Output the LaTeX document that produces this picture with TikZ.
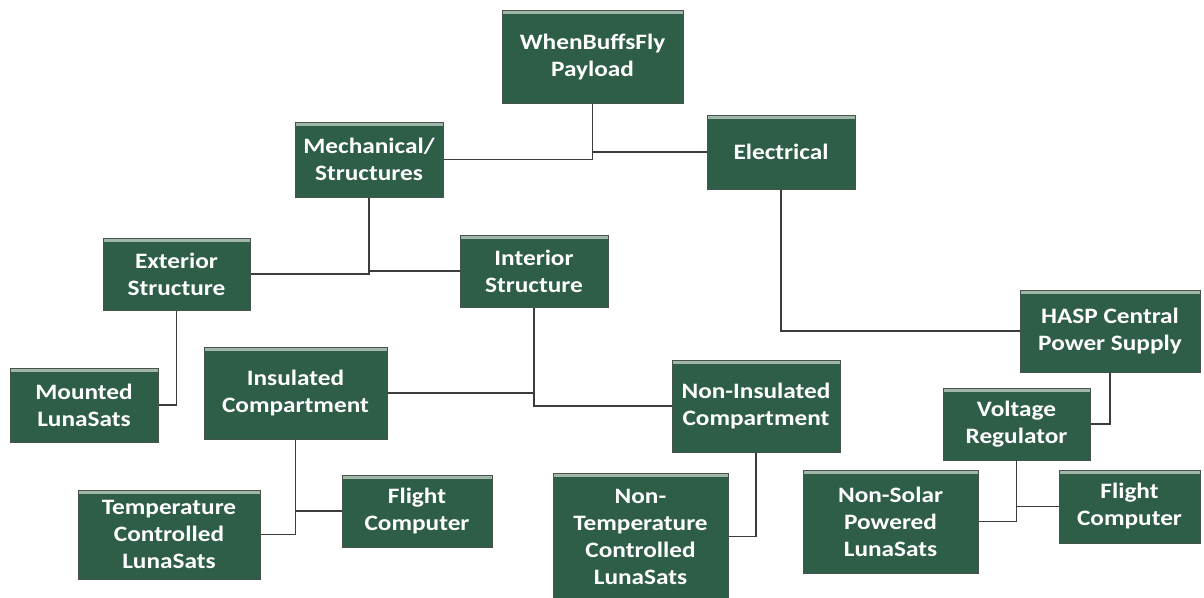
\documentclass[tikz,border=0pt]{standalone}
\usepackage{fontspec}
\setmainfont{Carlito}[FakeStretch=1.15]
\usetikzlibrary{positioning}
\definecolor{boxgreen}{RGB}{46,94,72}
\definecolor{boxedge}{RGB}{70,84,76}
\definecolor{boxshine}{RGB}{160,182,168}
\definecolor{wire}{RGB}{60,60,60}
\tikzset{
  unit/.style={
    rectangle, fill=boxgreen, draw=boxedge, line width=1pt,
    text=white, align=center, inner sep=2pt,
    font=\fontsize{22}{27}\selectfont\bfseries,
    path picture={
      \draw[boxshine, line width=2.5pt]
        ([yshift=-2.5pt]path picture bounding box.north west) --
        ([yshift=-2.5pt]path picture bounding box.north east);
    }
  },
  wirestyle/.style={draw=wire, line width=1.6pt}
}
\begin{document}
\begin{tikzpicture}[x=1pt, y=-1pt]
  \useasboundingbox (0,0) rectangle (1204,597);
  \clip (0,0) rectangle (1204,597);
  \fill[white] (0,0) rectangle (1204,597);

  % top level
  \node[unit, minimum width=181pt, minimum height=93pt] (pay)  at (592.5,56.5) {WhenBuffsFly\\Payload};
  \node[unit, minimum width=148pt, minimum height=75pt] (mech) at (369,159.5)  {Mechanical/\\Structures};
  \node[unit, minimum width=148pt, minimum height=74pt] (elec) at (781,152)    {Electrical};

  % mechanical branch
  \node[unit, minimum width=147pt, minimum height=72pt] (ext)  at (176.5,274)  {Exterior\\Structure};
  \node[unit, minimum width=148pt, minimum height=72pt] (int)  at (534,271)    {Interior\\Structure};
  \node[unit, minimum width=148pt, minimum height=74pt] (mnt)  at (84,405)     {Mounted\\LunaSats};
  \node[unit, minimum width=183pt, minimum height=92pt] (ins)  at (295.5,393)  {Insulated\\Compartment};
  \node[unit, minimum width=168pt, minimum height=92pt] (nins) at (756,406)    {Non-Insulated\\Compartment};
  \node[unit, minimum width=182pt, minimum height=89pt] (tc)   at (169,534.5)  {Temperature\\Controlled\\LunaSats};
  \node[unit, minimum width=150pt, minimum height=72pt] (fcl)  at (417,511)    {Flight\\Computer};
  \node[unit, minimum width=175pt, minimum height=127pt] (ntc) at (640.5,536.5) {Non-\\Temperature\\Controlled\\LunaSats};

  % electrical branch
  \node[unit, minimum width=180pt, minimum height=82pt] (hasp) at (1110,331)   {HASP Central\\Power Supply};
  \node[unit, minimum width=147pt, minimum height=72pt] (vr)   at (1016.5,424) {Voltage\\Regulator};
  \node[unit, minimum width=175pt, minimum height=103pt] (ns)  at (890.5,521.5) {Non-Solar\\Powered\\LunaSats};
  \node[unit, minimum width=141pt, minimum height=73pt] (fcr)  at (1129.5,506.5) {Flight\\Computer};

  % connectors
  \draw[wirestyle] (pay.south) |- (mech.east);
  \draw[wirestyle] (pay.south |- elec.west) -- (elec.west);
  \draw[wirestyle] (mech.south) |- (ext.east);
  \draw[wirestyle] (mech.south |- int.west) -- (int.west);
  \draw[wirestyle] (ext.south) |- (mnt.east);
  \draw[wirestyle] (int.south) |- (nins.west);
  \draw[wirestyle] (int.south |- ins.east) -- (ins.east);
  \draw[wirestyle] (ins.south) |- (tc.east);
  \draw[wirestyle] (ins.south |- fcl.west) -- (fcl.west);
  \draw[wirestyle] (nins.south) |- (ntc.east);
  \draw[wirestyle] (elec.south) |- (hasp.west);
  \draw[wirestyle] (hasp.south) |- (vr.east);
  \draw[wirestyle] (vr.south) |- (ns.east);
  \draw[wirestyle] (vr.south |- fcr.west) -- (fcr.west);
\end{tikzpicture}
\end{document}
